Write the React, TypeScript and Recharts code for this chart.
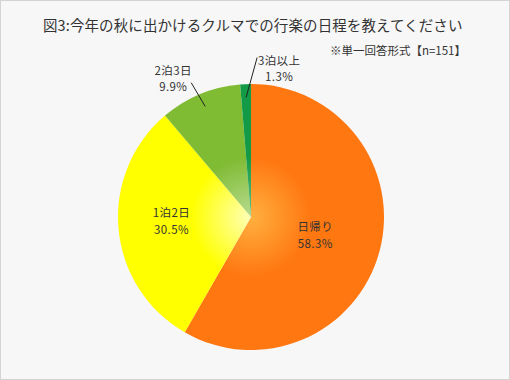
import React from "react";
import { PieChart, Pie, Cell } from "recharts";

const categories = ["日帰り", "1泊2日", "2泊3日", "3泊以上"];
const values = [58.3, 30.5, 9.9, 1.3];
const valueLabels = ["58.3%", "30.5%", "9.9%", "1.3%"];

const baseColors = ["#ff7710", "#ffff00", "#80bb34", "#129a46"];
const centerColors = ["#ffb040", "#ffffb8", "#b8dc90", "#60c080"];

const data = categories.map((name, i) => ({ name, value: values[i], pct: valueLabels[i] }));

const CX = 251;
const CY = 217;
const R = 133;
const RAD = Math.PI / 180;

// label layout: inside (radius factor) or outside (line end polar + text offset)
const labelLayout: any[] = [
  { inside: true, rf: 0.5, dy: -8 },
  { inside: true, rf: 0.6, dy: -12 },
  { inside: false, lineStart: 0.9, endAngle: 114, endRf: 1.105, tx: -18, ty: -13 },
  { inside: false, lineStart: 0.9, endAngle: 87.8, endRf: 1.2, tx: 22, ty: 2 },
];

const renderLabel = (props: any) => {
  const { cx, cy, midAngle, outerRadius, index } = props;
  const cfg = labelLayout[index];
  const name = categories[index];
  const pct = valueLabels[index];
  const textStyle = { fontSize: 11.5, fill: "#333", letterSpacing: 0.4, fontFamily: "'Noto Sans CJK JP', sans-serif" };
  if (cfg.inside) {
    const r = outerRadius * cfg.rf;
    const x = cx + r * Math.cos(-midAngle * RAD);
    const y = cy + r * Math.sin(-midAngle * RAD) + cfg.dy;
    return (
      <g key={`l${index}`}>
        <text x={x} y={y} textAnchor="middle" dominantBaseline="central" style={textStyle}>{name}</text>
        <text x={x} y={y + 17} textAnchor="middle" dominantBaseline="central" style={textStyle}>{pct}</text>
      </g>
    );
  }
  const sx = cx + outerRadius * cfg.lineStart * Math.cos(-midAngle * RAD);
  const sy = cy + outerRadius * cfg.lineStart * Math.sin(-midAngle * RAD);
  const ex = cx + outerRadius * cfg.endRf * Math.cos(-cfg.endAngle * RAD);
  const ey = cy + outerRadius * cfg.endRf * Math.sin(-cfg.endAngle * RAD);
  const tx = ex + cfg.tx;
  const ty = ey + cfg.ty;
  return (
    <g key={`l${index}`}>
      <line x1={sx} y1={sy} x2={ex} y2={ey} stroke="#222" strokeWidth={1} />
      <text x={tx} y={ty} textAnchor="middle" dominantBaseline="central" style={textStyle}>{name}</text>
      <text x={tx} y={ty + 16} textAnchor="middle" dominantBaseline="central" style={textStyle}>{pct}</text>
    </g>
  );
};

export default function App() {
  return (
    <div
      style={{
        position: "absolute",
        left: 0,
        top: 0,
        width: 510,
        height: 380,
        boxSizing: "border-box",
        border: "1px solid #d4d4d4",
        background: "#f7f7f7",
        fontFamily: "'Noto Sans CJK JP', sans-serif",
      }}
    >
      <div
        style={{
          position: "absolute",
          left: 42,
          top: 14,
          whiteSpace: "nowrap",
          fontSize: 14.5,
          color: "#333",
          lineHeight: "20px",
          letterSpacing: 0.1,
        }}
      >
        図3:今年の秋に出かけるクルマでの行楽の日程を教えてください
      </div>
      <div
        style={{
          position: "absolute",
          right: 43,
          top: 41,
          fontSize: 11.5,
          color: "#333",
          lineHeight: "16px",
          whiteSpace: "nowrap",
          letterSpacing: 0,
        }}
      >
        ※単一回答形式【n=151】
      </div>
      <div style={{ position: "absolute", left: -1, top: -1 }}>
        <PieChart width={510} height={380} margin={{ top: 0, right: 0, bottom: 0, left: 0 }}>
          <defs>
            {baseColors.map((c, i) => (
              <radialGradient key={i} id={`g${i}`} gradientUnits="userSpaceOnUse" cx={CX} cy={CY} r={R} fx={CX} fy={CY}>
                <stop offset="0%" stopColor={centerColors[i]} />
                <stop offset="45%" stopColor={c} />
                <stop offset="100%" stopColor={c} />
              </radialGradient>
            ))}
          </defs>
          <Pie
            data={data}
            dataKey="value"
            nameKey="name"
            cx={CX}
            cy={CY}
            outerRadius={R}
            startAngle={90}
            endAngle={-270}
            stroke="none"
            isAnimationActive={false}
            labelLine={false}
            label={renderLabel}
          >
            {data.map((d, i) => (
              <Cell key={d.name} fill={`url(#g${i})`} />
            ))}
          </Pie>
        </PieChart>
      </div>
    </div>
  );
}
